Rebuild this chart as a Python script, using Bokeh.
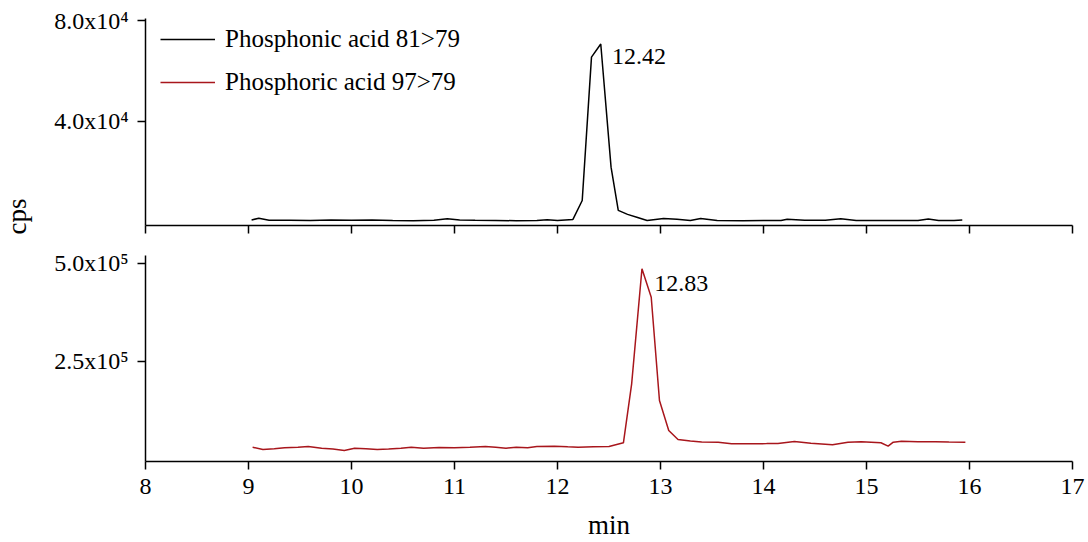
import math
from bokeh.plotting import figure
from bokeh.layouts import column, row
from bokeh.models import FixedTicker, Legend, LegendItem, Range1d
from bokeh.core.properties import value
from bokeh.embed import file_html
from bokeh.resources import INLINE

# ---- data ----
phosphonic_t = [9.03, 9.10, 9.20, 9.40, 9.60, 9.80, 10.00, 10.20, 10.40, 10.60, 10.80,
                10.93, 11.05, 11.20, 11.40, 11.60, 11.80, 11.90, 12.00, 12.15, 12.24,
                12.33, 12.42, 12.52, 12.59, 12.68, 12.77, 12.87, 13.03, 13.16, 13.29,
                13.39, 13.55, 13.80, 14.00, 14.17, 14.23, 14.40, 14.60, 14.75, 14.90,
                15.10, 15.30, 15.50, 15.60, 15.70, 15.85, 15.93]
phosphonic_cps = [1000, 1700, 900, 900, 800, 1000, 900, 1000, 800, 700, 900,
                  1500, 1000, 900, 800, 700, 800, 1100, 800, 1200, 8700,
                  65500, 70700, 21900, 4800, 3200, 2100, 800, 1600, 1300, 800,
                  1600, 800, 700, 800, 800, 1300, 900, 900, 1500, 800,
                  800, 800, 800, 1400, 800, 800, 1000]

phosphoric_t = [9.04, 9.14, 9.25, 9.35, 9.48, 9.58, 9.71, 9.82, 9.93, 10.03, 10.14,
                10.25, 10.36, 10.48, 10.58, 10.70, 10.85, 11.00, 11.15, 11.30, 11.40,
                11.50, 11.60, 11.71, 11.80, 11.97, 12.10, 12.20, 12.35, 12.50, 12.64,
                12.72, 12.82, 12.91, 12.99, 13.08, 13.17, 13.29, 13.40, 13.56, 13.69,
                13.90, 14.03, 14.14, 14.30, 14.46, 14.67, 14.82, 14.95, 15.14, 15.21,
                15.26, 15.34, 15.50, 15.67, 15.80, 15.96]
phosphoric_cps = [31500, 25500, 27500, 29800, 31000, 33200, 28900, 26500, 23000, 28900, 27500,
                  25500, 26500, 28900, 31500, 29000, 30500, 29800, 31000, 33000, 31000,
                  29000, 31500, 30000, 33000, 34000, 32500, 31500, 32500, 33200, 42600,
                  193000, 486500, 414000, 150500, 74000, 51000, 47000, 44500, 44200, 40000,
                  40000, 40500, 41000, 46000, 41700, 37500, 44200, 45000, 42600, 34000,
                  44200, 46800, 45500, 45000, 44500, 44200]

peak_labels = ["12.42", "12.83"]
x_ticks = [8, 9, 10, 11, 12, 13, 14, 15, 16, 17]
top_ticks = [40000, 80000]
top_tick_labels = ["4.0x10\u2074", "8.0x10\u2074"]
bot_ticks = [250000, 500000]
bot_tick_labels = ["2.5x10\u2075", "5.0x10\u2075"]
series_names = ["Phosphonic acid 81>79", "Phosphoric acid 97>79"]
y_title = "cps"
x_title = "min"

FONT = "'Liberation Serif', 'Times New Roman', serif"
RED = "#a8161c"
FW = 927
LW = 40  # width of the strip carrying the shared y title
H = 542

xr = Range1d(8, 17)


def style(p):
    p.outline_line_color = None
    p.xgrid.visible = False
    p.ygrid.visible = False
    for ax in (p.xaxis[0], p.yaxis[0]):
        ax.axis_line_width = 1.5
        ax.axis_line_color = "black"
        ax.major_tick_line_width = 1.5
        ax.major_tick_line_color = "black"
        ax.major_tick_in = 0
        ax.major_tick_out = 8
        ax.minor_tick_line_color = None
        ax.major_label_text_font = FONT
        ax.major_label_text_font_size = "24px"
        ax.major_label_text_font_style = "normal"
        ax.major_label_text_color = "black"
    p.xaxis[0].ticker = FixedTicker(ticks=x_ticks)
    p.yaxis[0].major_label_standoff = 9


# ---- shared y title strip ----
side = figure(width=LW, height=H, x_range=Range1d(0, LW), y_range=Range1d(0, H),
              output_backend="svg", toolbar_location=None,
              min_border_left=0, min_border_right=0, min_border_top=0, min_border_bottom=0)
side.axis.visible = False
side.grid.visible = False
side.outline_line_color = None
side.text(x=[16], y=[H - 216], text=[y_title], angle=math.pi / 2,
          text_font=value(FONT), text_font_size="27px", text_align="center",
          text_baseline="middle", text_color="black")

# ---- top panel ----
top = figure(frame_width=FW, frame_height=207, x_range=xr, y_range=Range1d(-1200, 80800),
             output_backend="svg", toolbar_location=None,
             min_border_left=145 - LW, min_border_right=16, min_border_top=18, min_border_bottom=20)
style(top)
top.yaxis[0].ticker = FixedTicker(ticks=top_ticks)
top.yaxis[0].major_label_overrides = dict(zip(top_ticks, top_tick_labels))
top.xaxis[0].major_label_text_font_size = "1px"
top.xaxis[0].major_label_text_color = None
top.xaxis[0].major_label_standoff = 0

r1 = top.line(phosphonic_t, phosphonic_cps, line_color="black", line_width=1.5)
r2 = top.line(x=[float("nan")], y=[float("nan")], line_color=RED, line_width=1.5)

i1 = phosphonic_cps.index(max(phosphonic_cps))
top.text(x=[phosphonic_t[i1] + 0.11], y=[max(phosphonic_cps) * 0.93], text=[peak_labels[0]],
         text_font=value(FONT), text_font_size="24px", text_baseline="middle", text_color="black")

legend = Legend(items=[LegendItem(label=series_names[0], renderers=[r1]),
                       LegendItem(label=series_names[1], renderers=[r2])],
                location=(15, 129), orientation="vertical")
legend.label_text_font = FONT
legend.label_text_font_size = "25px"
legend.label_text_color = "black"
legend.glyph_width = 55
legend.glyph_height = 20
legend.label_height = 20
legend.label_standoff = 10
legend.spacing = 15
legend.padding = 0
legend.margin = 0
legend.border_line_color = None
legend.background_fill_alpha = 0
top.add_layout(legend)

# ---- bottom panel ----
bot = figure(frame_width=FW, frame_height=206, x_range=xr, y_range=Range1d(-5100, 520400),
             output_backend="svg", toolbar_location=None,
             min_border_left=145 - LW, min_border_right=16, min_border_top=10, min_border_bottom=81)
style(bot)
bot.yaxis[0].ticker = FixedTicker(ticks=bot_ticks)
bot.yaxis[0].major_label_overrides = dict(zip(bot_ticks, bot_tick_labels))
bot.xaxis[0].major_label_standoff = 9
bot.xaxis[0].axis_label = x_title
bot.xaxis[0].axis_label_text_font = FONT
bot.xaxis[0].axis_label_text_font_size = "27px"
bot.xaxis[0].axis_label_text_font_style = "normal"
bot.xaxis[0].axis_label_text_color = "black"
bot.xaxis[0].axis_label_standoff = 13

bot.line(phosphoric_t, phosphoric_cps, line_color=RED, line_width=1.5)
i2 = phosphoric_cps.index(max(phosphoric_cps))
bot.text(x=[phosphoric_t[i2] + 0.12], y=[max(phosphoric_cps) * 0.925], text=[peak_labels[1]],
         text_font=value(FONT), text_font_size="24px", text_baseline="middle", text_color="black")

layout = row(side, column(top, bot, spacing=0), spacing=0)
open("out.html", "w").write(file_html(layout, INLINE))
